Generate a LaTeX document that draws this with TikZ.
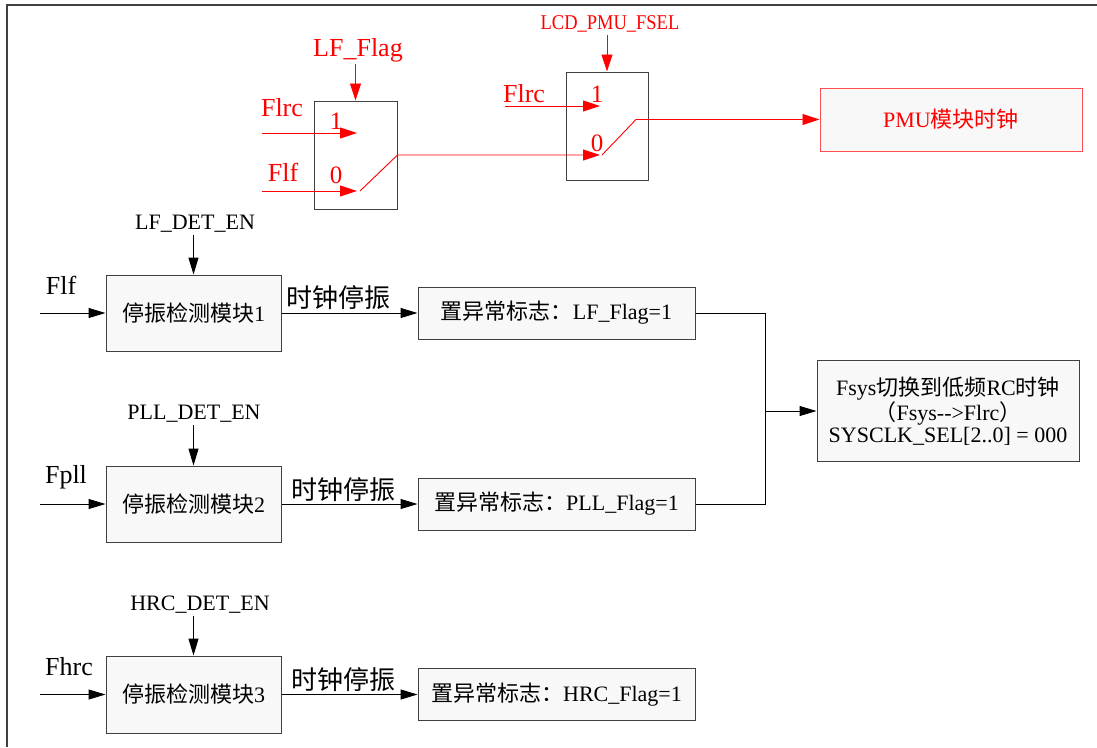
\documentclass[tikz,border=0pt]{standalone}
\usepackage{fontspec}
\setmainfont{Liberation Serif}
\newfontfamily\cjkfont{Noto Sans CJK SC}
\newfontfamily\narrowfont[FakeStretch=0.88]{Liberation Serif}
\usetikzlibrary{arrows.meta}
\newcommand{\zhtxt}[1]{{\cjkfont #1}}
\newcommand{\fsz}[1]{\fontsize{#1}{#1}\selectfont}
\definecolor{boxfill}{HTML}{F8F8F8}
\definecolor{boxline}{HTML}{404040}
\definecolor{pmuline}{HTML}{FF5050}
\begin{document}
\begin{tikzpicture}[x=1pt,y=-1pt,
  barr/.style={-{Triangle[length=17pt,width=10pt]}, line width=1pt, black},
  rarr/.style={-{Triangle[length=17pt,width=11pt]}, line width=0.9pt, red},
  bline/.style={line width=1pt, black},
  detbox/.style={draw=boxline, fill=boxfill, line width=1pt, inner sep=0pt,
    minimum width=175pt, minimum height=76pt, font=\fsz{22}},
  flagbox/.style={draw=boxline, fill=boxfill, line width=1pt, inner sep=0pt,
    minimum width=277pt, minimum height=52pt, font=\fsz{22}},
  muxbox/.style={draw=boxline, line width=1pt, inner sep=0pt,
    minimum width=83pt, minimum height=108pt},
  lbl/.style={inner sep=2pt, font=\fsz{22}},
  inlbl/.style={inner sep=2pt, font=\fsz{26}},
  zhlbl/.style={inner sep=2pt, font=\fsz{26}\cjkfont},
  rlbl/.style={inner sep=2pt, font=\fsz{26}, text=red},
  numlbl/.style={inner sep=0pt, font=\fsz{25}, text=red}
]
\useasboundingbox (0,0) rectangle (1097,747);
% frame
\draw[line width=1.6pt, black!75] (7,747) -- (7,5) -- (1097,5);

% ===== top red part =====
\node[muxbox] (m1) at (355.5,155) {};
\node[muxbox, minimum width=82pt] (m2) at (607,126) {};
\node[draw=pmuline, fill=boxfill, line width=1pt, minimum width=262pt, minimum height=63pt,
  inner sep=0pt, font=\fsz{22}, text=red] (pmu) at (951,119.5) {PMU\zhtxt{模块时钟}};

\node[rlbl] (lff) at (358,50) {LF\_Flag};
\draw[rarr] (lff.south -| m1.north) -- (m1.north);
\node[inner sep=2pt, font=\fsz{21}\narrowfont, text=red] (fsel) at (610,24) {LCD\_PMU\_FSEL};
\draw[rarr] (fsel.south -| m2.north) -- (m2.north);

% mux1 inputs
\node[rlbl] (flrc1) at (282,108) {Flrc};
\node[rlbl] (flf1) at (283,172) {Flf};
\node[numlbl] (one1) at (336,121) {1};
\node[numlbl] (zero1) at (336,175) {0};
\coordinate (a1s) at (262,133);
\coordinate (a1e) at (357,133);
\coordinate (b1s) at (262,191);
\coordinate (b1e) at (357,191);
\draw[rarr] (a1s) -- (a1e);
\draw[rarr] (b1s) -- (b1e);
\coordinate (sw1) at (360,191);
\coordinate (c2e) at (600,155);
\draw[rarr] (sw1) -- (m1.east) -- (c2e);

% mux2 inputs
\node[rlbl] (flrc2) at (524,94) {Flrc};
\node[numlbl] (one2) at (597,94) {1};
\node[numlbl] (zero2) at (597,143) {0};
\coordinate (a2s) at (505,106);
\coordinate (a2e) at (600,106);
\draw[rarr] (a2s) -- (a2e);
\coordinate (sw2) at (602,155);
\coordinate (sw2b) at (636,119.5);
\draw[rarr] (sw2) -- (sw2b) -- (pmu.west);

% ===== detection rows =====
\node[detbox] (d1) at (193.5,313) {\zhtxt{停振检测模块}1};
\node[detbox] (d2) at (193.5,504) {\zhtxt{停振检测模块}2};
\node[detbox, minimum height=77pt] (d3) at (193.5,694.5) {\zhtxt{停振检测模块}3};

\node[flagbox] (f1) at (556.5,313) {\zhtxt{置异常标志：}LF\_Flag=1};
\node[flagbox] (f2) at (556.5,504) {\zhtxt{置异常标志：}PLL\_Flag=1};
\node[flagbox] (f3) at (556.5,694.5) {\zhtxt{置异常标志：}HRC\_Flag=1};

\node[lbl] (en1) at (195,224) {LF\_DET\_EN};
\node[lbl] (en2) at (194,414) {PLL\_DET\_EN};
\node[lbl] (en3) at (200,605) {HRC\_DET\_EN};
\draw[barr] (en1.south -| d1.north) -- (d1.north);
\draw[barr] (en2.south -| d2.north) -- (d2.north);
\draw[barr] (en3.south -| d3.north) -- (d3.north);

\node[inlbl] (il1) at (61,285) {Flf};
\node[inlbl] (il2) at (66,477) {Fpll};
\node[inlbl] (il3) at (69,667) {Fhrc};
\coordinate (in1) at (40,313);
\coordinate (in2) at (40,504);
\coordinate (in3) at (40,694.5);
\draw[barr] (in1) -- (d1.west);
\draw[barr] (in2) -- (d2.west);
\draw[barr] (in3) -- (d3.west);

\node[zhlbl] (s1) at (338,298) {时钟停振};
\node[zhlbl] (s2) at (343,490) {时钟停振};
\node[zhlbl] (s3) at (343,680) {时钟停振};
\draw[barr] (d1) -- (f1);
\draw[barr] (d2) -- (f2);
\draw[barr] (d3) -- (f3);

% system clock switch
\node[draw=boxline, fill=boxfill, line width=1pt, inner sep=0pt, minimum width=262pt,
  minimum height=101pt, align=center, font=\fsz{22}] (fs) at (948,411)
  {\fontsize{22}{29}\selectfont Fsys\zhtxt{切换到低频}RC\zhtxt{时钟}\\
   \zhtxt{（}Fsys-{}-{}>Flrc\zhtxt{）}\\
   SYSCLK\_SEL[2..0] = 000};
\coordinate (j) at (765,411);
\draw[bline] (f1.east) -| (j);
\draw[bline] (f2.east) -| (j);
\draw[barr] (j) -- (fs.west);
\end{tikzpicture}
\end{document}
